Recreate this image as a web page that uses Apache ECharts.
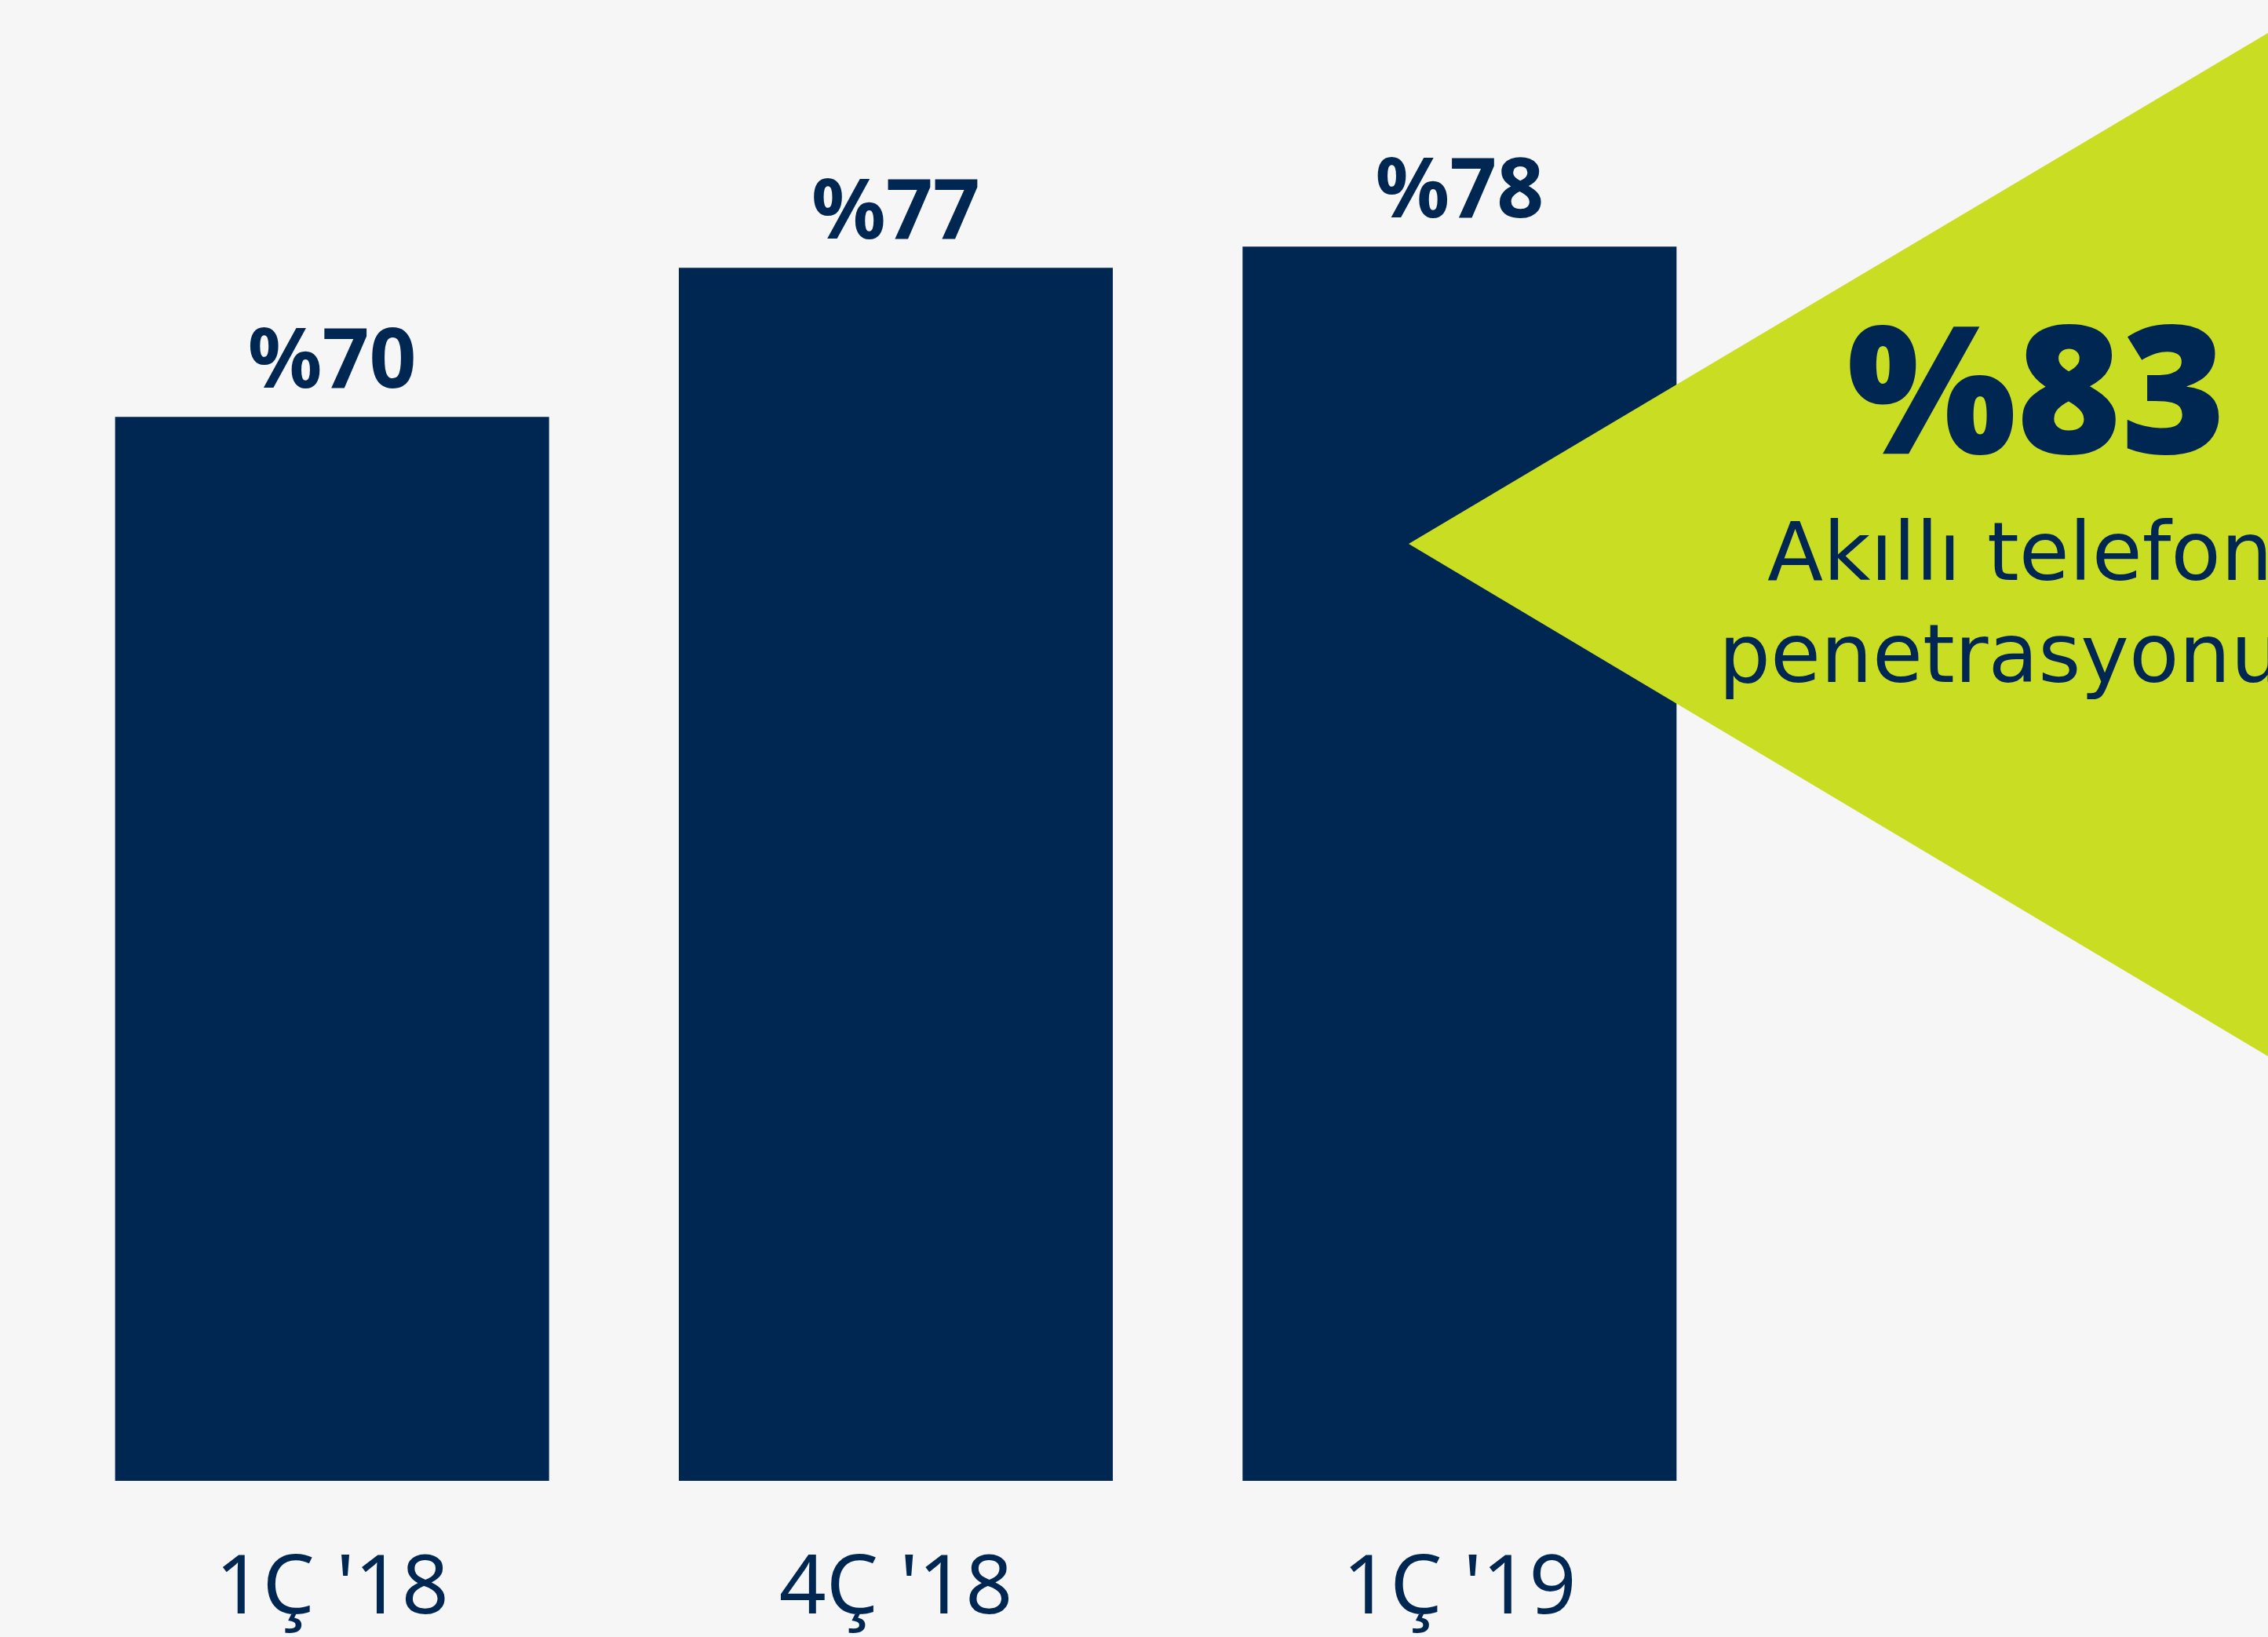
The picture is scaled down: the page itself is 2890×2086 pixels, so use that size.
<!DOCTYPE html>
<html>
<head>
<meta charset="utf-8">
<script src="https://cdn.jsdelivr.net/npm/echarts@6/dist/echarts.min.js"></script>
<style>
  html, body { margin: 0; padding: 0; background: #f6f6f6; }
  #chart { width: 2890px; height: 2086px; }
</style>
</head>
<body>
<div id="chart"></div>
<script>
// çeyrekler ve akıllı telefon penetrasyonu (%)
const categories = ["1Ç '18", "4Ç '18", "1Ç '19"];
const penetration = [70, 77, 78];
const highlightValue = "%83";
const highlightText = ["Akıllı telefon", "penetrasyonu"];

const navy = "#002652";
const lime = "#c9de22";
const font = "Noto Sans";

let myChart = echarts.init(document.getElementById("chart"));
let option = {
  backgroundColor: "#f6f6f6",
  animation: false,
  grid: {
    top: 260,
    bottom: 199,
    left: 64,
    right: 671
  },
  xAxis: {
    type: "category",
    data: categories,
    axisLine: { show: false },
    axisTick: { show: false },
    axisLabel: {
      color: navy,
      fontFamily: font,
      fontSize: 105,
      margin: 87
    }
  },
  yAxis: {
    type: "value",
    min: 20,
    max: 80,
    show: false,
    splitLine: { show: false }
  },
  series: [
    {
      type: "bar",
      data: penetration,
      barWidth: 553,
      itemStyle: { color: navy },
      label: {
        show: true,
        position: "top",
        distance: 15,
        color: navy,
        fontFamily: font,
        fontWeight: "bold",
        fontSize: 105,
        formatter: (p) => "%" + p.value
      }
    }
  ],
  graphic: [
    {
      type: "polygon",
      z: 10,
      shape: { points: [[1795, 693], [2890, 42], [2890, 1346]] },
      style: { fill: lime }
    },
    {
      type: "text",
      z: 11,
      x: 2595,
      y: 627,
      style: {
        text: highlightValue,
        fill: navy,
        font: "900 228px " + font,
        textAlign: "center",
        textVerticalAlign: "bottom"
      }
    },
    {
      type: "text",
      z: 11,
      x: 2252,
      y: 764,
      style: {
        text: highlightText[0],
        fill: navy,
        font: "104px DejaVu Sans",
        textAlign: "left",
        textVerticalAlign: "bottom"
      }
    },
    {
      type: "text",
      z: 11,
      x: 2190,
      y: 894,
      style: {
        text: highlightText[1],
        fill: navy,
        font: "104px DejaVu Sans",
        textAlign: "left",
        textVerticalAlign: "bottom"
      }
    }
  ]
};
myChart.setOption(option);
</script>
</body>
</html>
